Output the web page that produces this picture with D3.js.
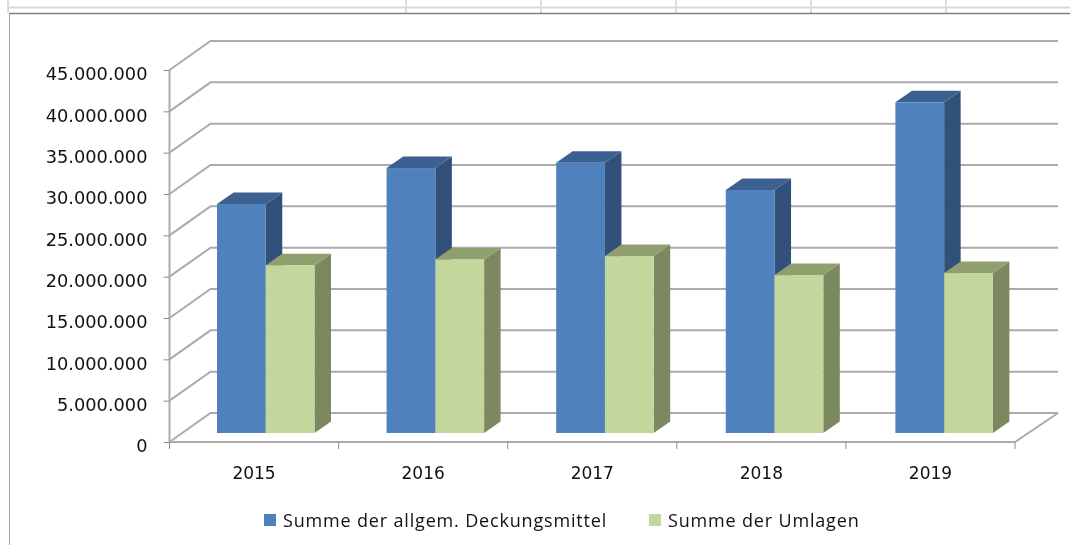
<!DOCTYPE html>
<html>
<head>
<meta charset="utf-8">
<script src="https://cdn.jsdelivr.net/npm/d3@7"></script>
<style>
	html, body { margin: 0; padding: 0; background: #fff; overflow: hidden; }
	svg { display: block; filter: blur(0.4px); }
	text { font-family: "DejaVu Sans", sans-serif; fill: #111; }
</style>
</head>
<body>
<div id="chart-area"></div>
<script>

// Data
let years = ["2015", "2016", "2017", "2018", "2019"];
let seriesNames = ["Summe der allgem. Deckungsmittel", "Summe der Umlagen"];
let deckungsmittel = [27700000, 32050000, 32700000, 29400000, 40000000];
let umlagen = [20300000, 21000000, 21400000, 19100000, 19350000];
let yTicks = [0, 5000000, 10000000, 15000000, 20000000, 25000000, 30000000, 35000000, 40000000, 45000000];

// Colours: front, top, side of each 3D bar
let blue = ["#4f81bd", "#3c6190", "#31507a"];
let green = ["#c3d69b", "#8f9f6e", "#7c8860"];

let svg = d3.select("#chart-area").append("svg")
	.attr("width", 1070)
	.attr("height", 545);

// define scales
let x = d3.scaleBand()
	.domain(years)
	.range([169.5, 1015]);
let y = d3.scaleLinear()
	.domain([0, 45000000])
	.range([442, 70]);

// bars drift a little to the right of the axis bands in the original
let barBand = d3.scaleBand()
	.domain(years)
	.range([169.5, 1017.5]);
let seriesX = d3.scaleBand()
	.domain(seriesNames)
	.range([47.5, 145]);

// depth of the box and of the bars
let depth = {dx: 41, dy: -29};
let barDepth = {dx: 16.5, dy: -11.5};
let barInset = {dx: 0, dy: -9};

let gridColor = "#ababab";

// sheet lines behind the chart
let sheet = svg.append("g");
sheet.append("line").attr("x1", 8).attr("x2", 1070).attr("y1", 7.5).attr("y2", 7.5)
	.attr("stroke", "#d9d9d9").attr("stroke-width", 2);
[8, 406, 541, 676, 811, 946].forEach(function(d){
	sheet.append("line").attr("x1", d).attr("x2", d).attr("y1", 0).attr("y2", 13)
		.attr("stroke", "#dcdcdc").attr("stroke-width", 2);
});
sheet.append("line").attr("x1", 9).attr("x2", 1070).attr("y1", 13.5).attr("y2", 13.5)
	.attr("stroke", "#808080").attr("stroke-width", 1.5);
sheet.append("line").attr("x1", 9.5).attr("x2", 9.5).attr("y1", 13).attr("y2", 545)
	.attr("stroke", "#a6a6a6").attr("stroke-width", 1);

// grid on the side and back walls
let grid = svg.append("g")
	.attr("fill", "none")
	.attr("stroke", gridColor)
	.attr("stroke-width", 2);

grid.selectAll("path")
	.data(yTicks)
	.enter()
	.append("path")
	.attr("d", function(d){
		let x0 = x.range()[0], x1 = x.range()[1];
		return d3.line()([
			[x0, y(d)],
			[x0 + depth.dx, y(d) + depth.dy],
			[x1 + depth.dx + 2, y(d) + depth.dy]
		]);
	});

// floor
grid.append("path")
	.attr("d", d3.line()([
		[x.range()[0], y(0)],
		[x.range()[1], y(0)],
		[x.range()[1] + depth.dx + 2, y(0) + depth.dy]
	]));

// left wall edge
grid.append("line")
	.attr("x1", x.range()[0]).attr("x2", x.range()[0])
	.attr("y1", y(45000000)).attr("y2", y(0));

// y axis
let yAxis = svg.append("g")
	.attr("transform", "translate(" + x.range()[0] + ",0)")
	.call(d3.axisLeft(y)
		.tickValues(yTicks)
		.tickSize(6)
		.tickPadding(16)
		.tickFormat(function(d){ return d3.format(",")(d).replace(/,/g, "."); }));
yAxis.select(".domain").remove();
yAxis.selectAll("line").attr("stroke", "#8c8c8c");
yAxis.selectAll("text")
	.attr("dy", "0.56em")
	.style("font-size", "17.8px");

// x axis
let xAxis = svg.append("g")
	.attr("transform", "translate(0," + y(0) + ")")
	.call(d3.axisBottom(x).tickSize(0).tickPadding(25));
xAxis.select(".domain").remove();
xAxis.selectAll("text").style("font-size", "17px");

svg.append("g")
	.selectAll("line")
	.data(years.concat(["end"]))
	.enter()
	.append("line")
	.attr("x1", d => d == "end" ? x.range()[1] : x(d))
	.attr("x2", d => d == "end" ? x.range()[1] : x(d))
	.attr("y1", y(0))
	.attr("y2", y(0) + 7)
	.attr("stroke", "#8c8c8c");

// draw one 3D bar: side, top, front
function drawBar(g, xPos, w, value, colors){
	let y0 = y(0) + barInset.dy;
	let yTop = y(value) + barInset.dy;
	let d = barDepth;

	g.append("path")
		.attr("fill", colors[2])
		.attr("d", d3.line()([[xPos + w, yTop], [xPos + w + d.dx, yTop + d.dy], [xPos + w + d.dx, y0 + d.dy], [xPos + w, y0]]) + "Z");
	g.append("path")
		.attr("fill", colors[1])
		.attr("d", d3.line()([[xPos, yTop], [xPos + d.dx, yTop + d.dy], [xPos + w + d.dx, yTop + d.dy], [xPos + w, yTop]]) + "Z");
	g.append("rect")
		.attr("fill", colors[0])
		.attr("x", xPos)
		.attr("y", yTop)
		.attr("width", w)
		.attr("height", y0 - yTop);
}

let bars = svg.append("g");
years.forEach(function(year, i){
	let g = bars.append("g");
	drawBar(g, barBand(year) + seriesX(seriesNames[0]), seriesX.bandwidth(), deckungsmittel[i], blue);
	drawBar(g, barBand(year) + seriesX(seriesNames[1]), seriesX.bandwidth(), umlagen[i], green);
});

// legend
let legendX = [264, 649];
let legend = svg.append("g");
seriesNames.forEach(function(name, i){
	legend.append("rect")
		.attr("x", legendX[i])
		.attr("y", 514)
		.attr("width", 12)
		.attr("height", 12)
		.attr("fill", i == 0 ? blue[0] : green[0]);
	legend.append("text")
		.attr("x", legendX[i] + 19)
		.attr("y", 527)
		.style("font-family", "'Open Sans', sans-serif")
		.style("font-size", "18px")
		.style("letter-spacing", "0.83px")
		.text(name);
});

</script>
</body>
</html>
